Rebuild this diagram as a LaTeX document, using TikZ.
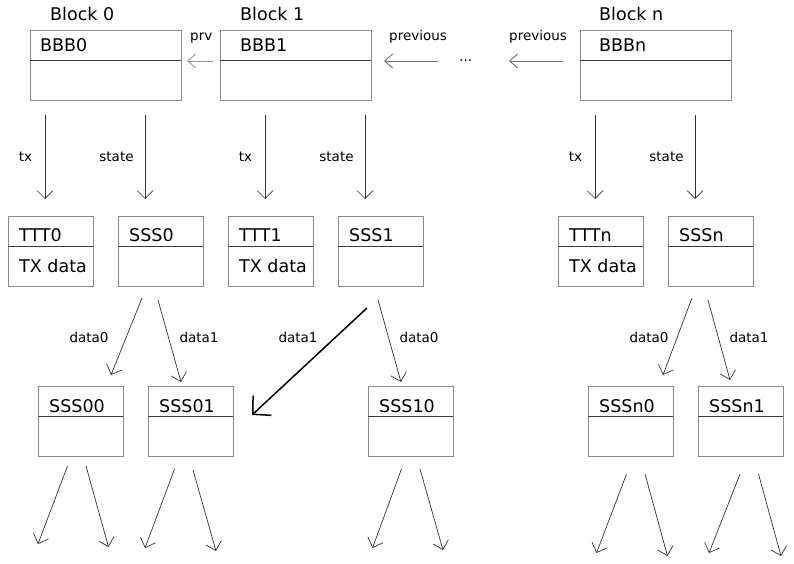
\documentclass[tikz,border=0pt]{standalone}
\usepackage{fontspec}
\setmainfont{DejaVu Sans}
\usetikzlibrary{arrows.meta}
\definecolor{boxgray}{HTML}{8A8A8A}
\definecolor{divgray}{HTML}{3C3C3C}
\definecolor{arrgray}{HTML}{333333}
\begin{document}
\begin{tikzpicture}[x=1pt,y=-1pt,
 blk/.style={draw=boxgray,line width=1pt,rectangle,minimum width=151pt,minimum height=70pt,anchor=north west,inner sep=0pt,outer sep=0pt},
 sbox/.style={blk,minimum width=85pt},
 big/.style={font=\fontsize{17.5}{21}\selectfont,anchor=base west,inner sep=0pt},
 lab/.style={font=\fontsize{13.5}{16}\selectfont,anchor=base,inner sep=0pt},
 labw/.style={lab,anchor=base west},
 arr/.style={draw=arrgray,line width=0.7pt,-{Straight Barb[length=8pt,width=16pt]}},
 parr/.style={draw=black!55,line width=0.9pt,-{Straight Barb[length=8pt,width=14pt]}},
 thick arr/.style={draw=black,line width=1.5pt,-{Straight Barb[length=13pt,width=27pt]}},
 div/.style={draw=divgray,line width=1pt},
]
\useasboundingbox (0,0) rectangle (794,564);

% blocks
\node[blk] (B0) at (30,31) {};
\node[blk] (B1) at (220,31) {};
\node[blk] (Bn) at (580,31) {};
\foreach \b in {B0,B1,Bn}
  \draw[div] ([yshift=-30pt]\b.north west) -- ([yshift=-30pt]\b.north east);
\node[big] (lB0) at (50,21) {Block 0};
\node[big] (lB1) at (240,21) {Block 1};
\node[big] (lBn) at (599,21) {Block n};
\node[big] (nB0) at (40,52) {BBB0};
\node[big] (nB1) at (240,52) {BBB1};
\node[big] (nBn) at (599,52) {BBBn};

% previous links
\coordinate (p1s) at (213,61); \coordinate (p1e) at (187,61);
\coordinate (p2s) at (438,61); \coordinate (p2e) at (384,61);
\coordinate (p3s) at (563,61); \coordinate (p3e) at (509,61);
\draw[parr,draw=black!40] (p1s) -- (p1e);
\draw[parr] (p2s) -- (p2e);
\draw[parr] (p3s) -- (p3e);
\node[labw] (lp1) at (190,41) {prv};
\node[labw] (lp2) at (389,41) {previous};
\node[labw] (lp3) at (509,41) {previous};
\node[labw] (dots) at (459,62) {...};

% level 2 boxes
\node[sbox] (T0) at (8,216) {};
\node[sbox] (S0) at (118,216) {};
\node[sbox] (T1) at (228,216) {};
\node[sbox] (S1) at (338,216) {};
\node[sbox] (Tn) at (558,216) {};
\node[sbox] (Sn) at (668,216) {};
% level 3 boxes
\node[sbox] (S00) at (38,386) {};
\node[sbox] (S01) at (148,386) {};
\node[sbox] (S10) at (368,386) {};
\node[sbox] (Sn0) at (588,386) {};
\node[sbox] (Sn1) at (698,386) {};
\foreach \b in {T0,S0,T1,S1,Tn,Sn,S00,S01,S10,Sn0,Sn1}
  \draw[div] ([yshift=-30pt]\b.north west) -- ([yshift=-30pt]\b.north east);

\node[big] (nT0) at (19,241) {TTT0};
\node[big] (dT0) at (19,272) {TX data};
\node[big] (nS0) at (129,241) {SSS0};
\node[big] (nT1) at (239,241) {TTT1};
\node[big] (dT1) at (239,272) {TX data};
\node[big] (nS1) at (349,241) {SSS1};
\node[big] (nTn) at (569,241) {TTTn};
\node[big] (dTn) at (569,272) {TX data};
\node[big] (nSn) at (679,241) {SSSn};
\node[big] (nS00) at (49,412) {SSS00};
\node[big] (nS01) at (159,412) {SSS01};
\node[big] (nS10) at (379,412) {SSS10};
\node[big] (nSn0) at (599,412) {SSSn0};
\node[big] (nSn1) at (709,412) {SSSn1};

% tx / state arrows
\foreach \n/\x in {a/45,b/145,c/265,d/365,e/595,f/695}{
  \coordinate (v\n s) at (\x,115);
  \coordinate (v\n e) at (\x,199);
  \draw[arr] (v\n s) -- (v\n e);
}
\node[lab] (ltx0) at (25.5,162) {tx};
\node[lab] (lst0) at (116.5,162) {state};
\node[lab] (ltx1) at (245.5,162) {tx};
\node[lab] (lst1) at (336.5,162) {state};
\node[lab] (ltxn) at (575.5,162) {tx};
\node[lab] (lstn) at (666.5,162) {state};

% data arrows
\foreach \n/\sx/\sy/\ex/\ey in {
  da/142/298/111/375, db/158/300/181/382,
  dc/378/300/401/382,
  dd/692/298/663/375, de/708/300/730/380}{
  \coordinate (\n s) at (\sx,\sy);
  \coordinate (\n e) at (\ex,\ey);
  \draw[arr] (\n s) -- (\n e);
}
\coordinate (bigs) at (367,308);
\coordinate (bige) at (252,415);
\draw[thick arr] (bigs) -- (bige);
\node[lab] (ld0a) at (89,342) {data0};
\node[lab] (ld1a) at (199,342) {data1};
\node[lab] (ld1b) at (298,342) {data1};
\node[lab] (ld0b) at (419,342) {data0};
\node[lab] (ld0n) at (649,342) {data0};
\node[lab] (ld1n) at (749,342) {data1};

% bottom arrows
\foreach \n/\sx/\sy/\ex/\ey in {
  ba/67.5/466/38/544, bb/86/466/108.5/547,
  bc/174.5/469/145/548, bd/193/470/216/551,
  be/401.5/469/372.5/548, bf/420/469/443/550,
  bg/626.5/474/596.5/553, bh/645/474/667.5/556,
  bi/740/474/709/553, bj/758.5/474/781/556}{
  \coordinate (\n s) at (\sx,\sy);
  \coordinate (\n e) at (\ex,\ey);
  \draw[arr] (\n s) -- (\n e);
}
\end{tikzpicture}
\end{document}
